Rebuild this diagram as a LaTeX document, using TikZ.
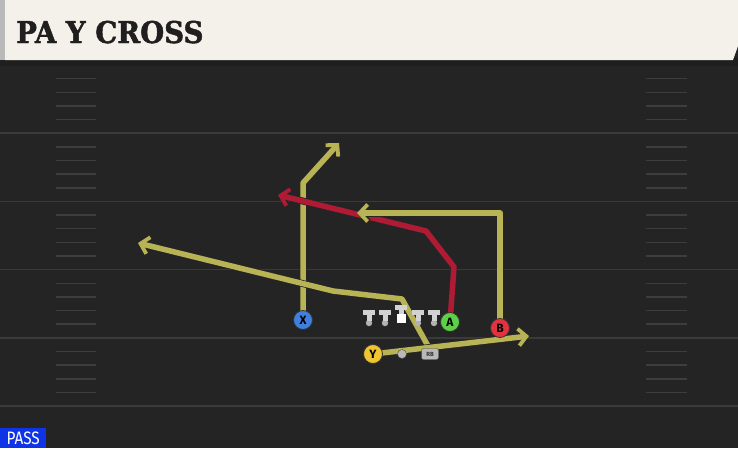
\documentclass[tikz,border=0pt]{standalone}
\usepackage{fontspec}
\usepackage{tikz}
\usetikzlibrary{arrows.meta}
\usepackage{xcolor}
\newfontfamily\titlefont[FakeStretch=0.92,FakeBold=1.5]{DejaVu Serif}
\newfontfamily\passfont[FakeStretch=0.85]{Fira Sans}
\newfontfamily\markfont{Fira Sans}
\definecolor{field}{HTML}{242424}
\definecolor{yard}{HTML}{3A3A3A}
\definecolor{hashc}{HTML}{3D3D3D}
\definecolor{paper}{HTML}{F4F1EA}
\definecolor{olive}{HTML}{B8B355}
\definecolor{crimson}{HTML}{AF1A35}
\definecolor{xblue}{HTML}{3F7FE0}
\definecolor{agreen}{HTML}{5CD046}
\definecolor{bred}{HTML}{E2323F}
\definecolor{yyellow}{HTML}{EEC430}
\definecolor{passblue}{HTML}{0F33E6}
\tikzset{
  player/.style={circle, draw=black!80, line width=0.8pt, minimum size=19pt,
    inner sep=0pt, font=\markfont\bfseries\fontsize{12}{12}\selectfont},
  route/.style={line width=5.5pt, line join=round,
    -{Straight Barb[length=8pt,width=17pt,line width=3.8pt]},
    preaction={draw=black!85, line width=7pt,
      -{Straight Barb[length=8pt,width=17pt,line width=5.3pt]}}},
  tbar/.style={fill=gray!35}
}
\begin{document}
\begin{tikzpicture}[x=1pt,y=-1pt]
  \useasboundingbox (0,0) rectangle (738,448);
  \fill[field] (0,0) rectangle (738,448);
  \fill[black!88] (0,58) rectangle (738,66);
  \fill[gray!55] (0,0) rectangle (5,60);
  \fill[paper] (5,0) -- (738,0) -- (738,46) -- (733,60) -- (5,60) -- cycle;
  \node[anchor=base west, text=black!88, inner sep=0pt,
    font=\titlefont\bfseries\fontsize{30}{30}\selectfont] (title) at (16,43) {PA Y CROSS};

  \foreach \y in {133.2,201.4,269.6,337.8,406}
    \draw[yard, line width=1.5pt] (0,\y) -- (738,\y);
  \foreach \y in {65,133.2,201.4,269.6,337.8}
    \foreach \k in {1,...,4} {
      \draw[hashc, line width=1.5pt] (56,{\y+13.65*\k}) -- (96,{\y+13.65*\k});
      \draw[hashc, line width=1.5pt] (646,{\y+13.65*\k}) -- (687,{\y+13.65*\k});
    }

  \coordinate (xpos) at (303,320);
  \coordinate (apos) at (450,322);
  \coordinate (bpos) at (500,328);
  \coordinate (ypos) at (373,354);
  \coordinate (rbpos) at (430,354);

  \draw[route, olive] (xpos) -- (303,183) -- (339,143);
  \draw[route, crimson] (apos) -- (454,267) -- (426,231) -- (278,195);
  \draw[route, olive] (bpos) -- (500,213) -- (357,213);
  \draw[route, olive] (428,346) -- (402,299) -- (333,291) -- (138,243);
  \draw[route, olive] (ypos) -- (529,336);

  \foreach \x in {369,385,418,434} {
    \fill[gray!60] (\x,323) circle (3.2);
    \fill[tbar] (\x-6,310) rectangle (\x+6,314.5);
    \fill[tbar] (\x-2.5,313) rectangle (\x+2.5,321);
  }
  \fill[tbar] (395,305) rectangle (407,309.5);
  \fill[tbar] (398.5,308) rectangle (403.5,314);
  \fill[white] (397,314) rectangle (406,323);

  \filldraw[fill=gray!55, draw=black!70] (402,354) circle (4.5);
  \node[fill=gray!55, draw=black!70, rounded corners=2pt, minimum width=17pt,
    minimum height=11pt, inner sep=0pt, text=black!80,
    font=\markfont\bfseries\fontsize{6}{6}\selectfont] (RB) at (rbpos) {RB};

  \node[player, fill=xblue] (X) at (xpos) {X};
  \node[player, fill=agreen] (A) at (apos) {A};
  \node[player, fill=bred] (B) at (bpos) {B};
  \node[player, fill=yyellow] (Y) at (ypos) {Y};

  \node[fill=passblue, text=white, anchor=south west, minimum width=46pt,
    minimum height=20pt, inner sep=0pt,
    font=\passfont\fontsize{18}{18}\selectfont] (play) at (0,448) {PASS};
\end{tikzpicture}
\end{document}
